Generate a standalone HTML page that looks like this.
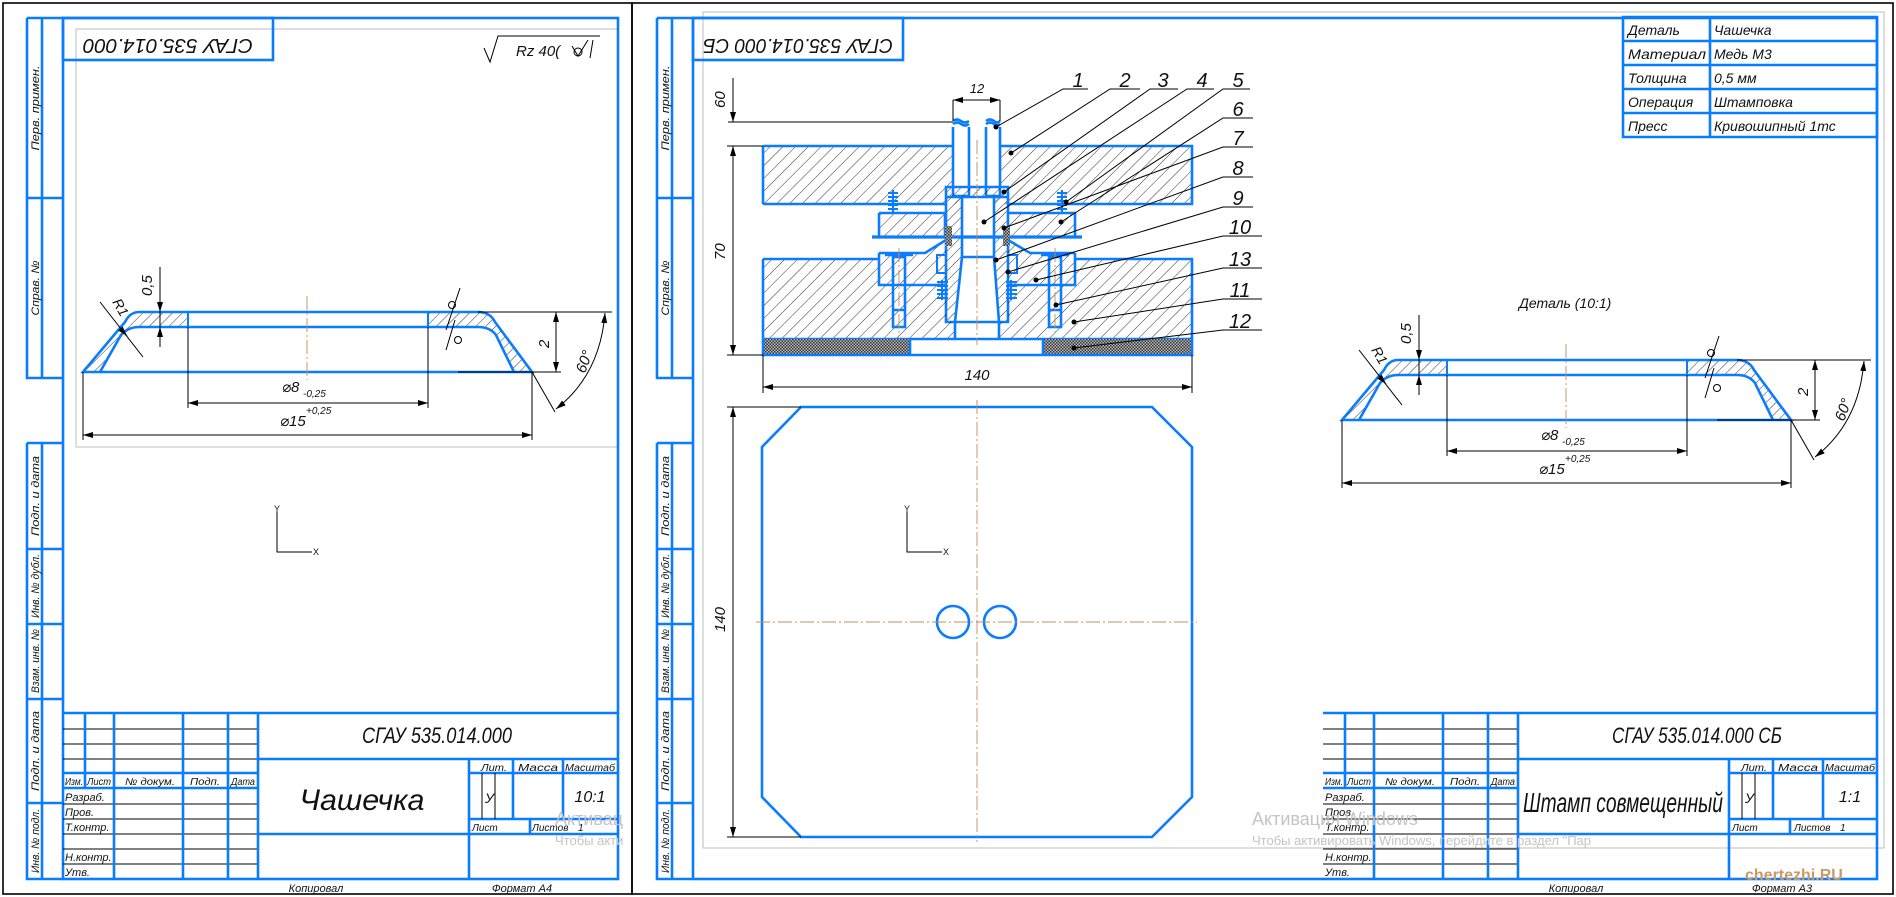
<!DOCTYPE html>
<html><head><meta charset="utf-8">
<style>
html,body{margin:0;padding:0;background:#fff;}
svg{display:block;}
text{font-family:"Liberation Sans","DejaVu Sans",sans-serif;font-style:italic;fill:#111;}
.b{stroke:#0a7cff;stroke-width:2.6;fill:none;}
.bt{stroke:#0a7cff;stroke-width:2;fill:none;}
.k{stroke:#000;stroke-width:1;fill:none;}
.k2{stroke:#000;stroke-width:1.6;fill:none;}
.g{stroke:#c8c8c8;stroke-width:1.2;fill:none;}
.c{stroke:#c0905a;stroke-width:0.9;fill:none;stroke-dasharray:14,3,2,3;}
.st{font-size:11px;}
</style></head>
<body>
<svg width="1896" height="897" viewBox="0 0 1896 897" xmlns="http://www.w3.org/2000/svg">
<defs>
<pattern id="h" width="9" height="9" patternUnits="userSpaceOnUse" patternTransform="rotate(45)">
<line x1="0" y1="0" x2="0" y2="9" stroke="#000" stroke-width="0.8"/>
</pattern>
<pattern id="hs" width="7" height="7" patternUnits="userSpaceOnUse" patternTransform="rotate(45)">
<line x1="0" y1="0" x2="0" y2="7" stroke="#000" stroke-width="0.8"/>
</pattern>
<pattern id="x" width="3" height="3" patternUnits="userSpaceOnUse">
<rect width="3" height="3" fill="#bbb"/><rect width="1.5" height="1.5" fill="#333"/><rect x="1.5" y="1.5" width="1.5" height="1.5" fill="#333"/>
</pattern>
<marker id="a" viewBox="0 0 10 6" refX="10" refY="3" markerWidth="10" markerHeight="6" orient="auto-start-reverse" markerUnits="userSpaceOnUse">
<path d="M0,0 L10,3 L0,6 Z" fill="#000"/></marker>
</defs>

<rect x="3" y="3" width="629" height="891" class="k2"/>
<rect x="632" y="3" width="1261" height="891" class="k2"/>

<rect x="76" y="29" width="542" height="418" class="g"/>
<rect x="703" y="12" width="1181" height="836" class="g"/>

<rect x="63" y="18" width="555" height="861" class="b"/>
<path class="b" d="M27,18 V198 H63 M27,198 V378 H63 M42,18 V378 M27,18 H63"/>
<path class="b" d="M27,443 H63 M27,443 V879 H63 M42,443 V879 M27,549 H63 M27,624 H63 M27,699 H63 M27,803 H63"/>
<g id="strip" class="st">
<text transform="translate(39,108) rotate(-90)" text-anchor="middle" textLength="85" lengthAdjust="spacingAndGlyphs">Перв. примен.</text>
<text transform="translate(39,288) rotate(-90)" text-anchor="middle" textLength="55" lengthAdjust="spacingAndGlyphs">Справ. №</text>
<text transform="translate(39,496) rotate(-90)" text-anchor="middle" textLength="80" lengthAdjust="spacingAndGlyphs">Подп. и дата</text>
<text transform="translate(39,586) rotate(-90)" text-anchor="middle" textLength="64" lengthAdjust="spacingAndGlyphs">Инв. № дубл.</text>
<text transform="translate(39,661) rotate(-90)" text-anchor="middle" textLength="64" lengthAdjust="spacingAndGlyphs">Взам. инв. №</text>
<text transform="translate(39,751) rotate(-90)" text-anchor="middle" textLength="80" lengthAdjust="spacingAndGlyphs">Подп. и дата</text>
<text transform="translate(39,841) rotate(-90)" text-anchor="middle" textLength="64" lengthAdjust="spacingAndGlyphs">Инв. № подл.</text>
</g>
<rect x="63" y="18" width="210" height="42" class="b"/>
<text transform="translate(168,39) rotate(180)" text-anchor="middle" font-size="20" textLength="170" lengthAdjust="spacingAndGlyphs">СГАУ 535.014.000</text>
<path class="k" d="M484,48 L490,62 L498,36 H600"/>
<text x="516" y="56" font-size="15">Rz 40(</text>
<circle cx="578" cy="52" r="4" class="k"/>
<path class="k" d="M572,46 L578,56 L588,40 M593,40 L590,58"/>

<rect x="693" y="18" width="1184" height="861" class="b"/>
<path class="b" d="M657,18 V198 H693 M657,198 V378 H693 M672,18 V378 M657,18 H693"/>
<path class="b" d="M657,443 H693 M657,443 V879 H693 M672,443 V879 M657,549 H693 M657,624 H693 M657,699 H693 M657,803 H693"/>
<use href="#strip" transform="translate(630,0)"/>
<rect x="693" y="18" width="210" height="42" class="b"/>
<text transform="translate(798,39) rotate(180)" text-anchor="middle" font-size="20" textLength="190" lengthAdjust="spacingAndGlyphs">СГАУ 535.014.000 СБ</text>

<g id="tb">
<path class="k" d="M63,729 H258 M63,744 H258 M63,759 H258 M63,804 H258 M63,819 H258 M63,834 H258 M63,849 H258 M63,864 H258"/>
<path class="b" d="M63,713 H618 M63,773 H258 M63,788 H258 M85,713 V788 M114,713 V879 M183,713 V879 M228,713 V879 M258,713 V879 M258,759 H618 M258,834 H618 M469,759 V879 M469,773 H618 M469,819 H618 M513,759 V819 M563,759 V819 M530,819 V834"/>
<path class="k" d="M482,773 V819 M495,773 V819"/>
<g font-size="10">
<text x="65" y="785" textLength="18" lengthAdjust="spacingAndGlyphs">Изм.</text>
<text x="87" y="785" textLength="24" lengthAdjust="spacingAndGlyphs">Лист</text>
<text x="125" y="785" textLength="50" lengthAdjust="spacingAndGlyphs">№ докум.</text>
<text x="190" y="785" textLength="30" lengthAdjust="spacingAndGlyphs">Подп.</text>
<text x="231" y="785" textLength="24" lengthAdjust="spacingAndGlyphs">Дата</text>
<text x="481" y="771" textLength="26" lengthAdjust="spacingAndGlyphs">Лит.</text>
<text x="518" y="771" textLength="40" lengthAdjust="spacingAndGlyphs">Масса</text>
<text x="565" y="771" textLength="50" lengthAdjust="spacingAndGlyphs">Масштаб</text>
<text x="472" y="831">Лист</text>
</g>
<g font-size="11">
<text x="65" y="801">Разраб.</text>
<text x="65" y="816">Пров.</text>
<text x="65" y="831">Т.контр.</text>
<text x="65" y="861">Н.контр.</text>
<text x="65" y="876">Утв.</text>
</g>
<text x="485" y="803" font-size="14">У</text>
</g>
<use href="#tb" transform="translate(1260,0)"/>

<text x="437" y="743" text-anchor="middle" font-size="22" textLength="150" lengthAdjust="spacingAndGlyphs">СГАУ 535.014.000</text>
<text x="362" y="810" text-anchor="middle" font-size="30" textLength="125" lengthAdjust="spacingAndGlyphs">Чашечка</text>
<text x="590" y="802" text-anchor="middle" font-size="16">10:1</text>
<text x="532" y="831" font-size="10">Листов</text>
<text x="578" y="831" font-size="10">1</text>
<text x="316" y="892" text-anchor="middle" font-size="11">Копировал</text>
<text x="522" y="892" text-anchor="middle" font-size="11">Формат    А4</text>

<text x="1697" y="743" text-anchor="middle" font-size="22" textLength="170" lengthAdjust="spacingAndGlyphs">СГАУ 535.014.000 СБ</text>
<text x="1623" y="812" text-anchor="middle" font-size="28" textLength="200" lengthAdjust="spacingAndGlyphs">Штамп совмещенный</text>
<text x="1850" y="802" text-anchor="middle" font-size="16">1:1</text>
<text x="1794" y="831" font-size="10">Листов</text>
<text x="1840" y="831" font-size="10">1</text>
<text x="1576" y="892" text-anchor="middle" font-size="11">Копировал</text>
<text x="1782" y="892" text-anchor="middle" font-size="11">Формат    А3</text>

<text x="555" y="825" font-size="18" style="fill:#c4c4c4;font-style:normal">Активац</text>
<text x="555" y="845" font-size="13" style="fill:#c4c4c4;font-style:normal">Чтобы акти</text>
<text x="1252" y="825" font-size="18" style="fill:#c4c4c4;font-style:normal">Активация Windows</text>
<text x="1252" y="845" font-size="13" style="fill:#c4c4c4;font-style:normal">Чтобы активировать Windows, перейдите в раздел "Пар</text>
<text x="1745" y="880" font-size="16" style="fill:#c79a66;font-style:normal;font-weight:bold">chertezhi.RU</text>

<path class="b" d="M1623,17 H1877 V137 H1623 Z M1623,41 H1877 M1623,65 H1877 M1623,89 H1877 M1623,113 H1877 M1710,17 V137"/>
<g font-size="14">
<text x="1628" y="35">Деталь</text><text x="1714" y="35">Чашечка</text>
<text x="1628" y="59" textLength="78" lengthAdjust="spacingAndGlyphs">Материал</text><text x="1714" y="59">Медь М3</text>
<text x="1628" y="83">Толщина</text><text x="1714" y="83">0,5 мм</text>
<text x="1628" y="107">Операция</text><text x="1714" y="107">Штамповка</text>
<text x="1628" y="131">Пресс</text><text x="1714" y="131">Кривошипный 1тс</text>
</g>

<g id="det">
<path fill="url(#hs)" d="M83,372 L125,322 Q130,312 139,312 L188,312 L188,327 L139,327 Q128,327 121,335 L100,372 Z"/>
<path fill="url(#hs)" d="M532,372 L495,322 Q490,312 478,312 L428,312 L428,327 L478,327 Q490,327 496,335 L514,372 Z"/>
<path class="b" d="M83,372 L125,322 Q130,312 139,312 L478,312 Q490,312 495,322 L532,372 Z"/>
<path class="b" d="M100,372 L121,335 Q128,327 139,327 L478,327 Q490,327 496,335 L514,372"/>
<path class="bt" d="M188,312 V327 M428,312 V327"/>
<line x1="307" y1="296" x2="307" y2="380" class="c"/>
<path class="k" d="M188,327 V408 M428,327 V408 M83,372 V440 M532,372 V440"/>
<line x1="188" y1="403" x2="428" y2="403" class="k" marker-start="url(#a)" marker-end="url(#a)"/>
<line x1="83" y1="435" x2="532" y2="435" class="k" marker-start="url(#a)" marker-end="url(#a)"/>
<text x="282" y="392" font-size="15">⌀8</text><text x="303" y="397" font-size="10">-0,25</text>
<text x="280" y="426" font-size="15">⌀15</text><text x="306" y="414" font-size="10">+0,25</text>
<path class="k" d="M478,312 H612 M458,372 H561"/>
<line x1="556" y1="312" x2="556" y2="372" class="k" marker-start="url(#a)" marker-end="url(#a)"/>
<text transform="translate(549,348) rotate(-90)" font-size="15">2</text>
<path class="k" d="M532,372 L555,412"/>
<path class="k" d="M605,313 Q600,375 556,409" marker-start="url(#a)" marker-end="url(#a)"/>
<text transform="translate(585,374) rotate(-70)" font-size="15">60°</text>
<path class="k" d="M160,267 V347"/>
<path class="k" d="M160,300 V312" marker-end="url(#a)"/>
<path class="k" d="M160,340 V327" marker-end="url(#a)"/>
<text transform="translate(152,296) rotate(-90)" font-size="15">0,5</text>
<path class="k" d="M100,302 L143,357"/>
<path class="k" d="M120,328 L127,336" marker-end="url(#a)"/>
<text transform="translate(112,302) rotate(60)" font-size="14">R1</text>
<path class="k" d="M446,330 L460,288 M446,350 L455,320"/>
<circle cx="452" cy="305" r="3.5" class="k"/><circle cx="458" cy="340" r="3.5" class="k"/>
</g>
<use href="#det" transform="translate(1259,48)"/>
<text x="1519" y="308" font-size="14">Деталь (10:1)</text>

<path class="k" d="M277,512 V552 H312"/>
<text x="274" y="512" font-size="9" style="font-style:normal">Y</text>
<text x="313" y="555" font-size="9" style="font-style:normal">X</text>
<path class="k" d="M907,512 V552 H942"/>
<text x="904" y="512" font-size="9" style="font-style:normal">Y</text>
<text x="943" y="555" font-size="9" style="font-style:normal">X</text>

<rect x="763" y="146" width="429" height="58" fill="url(#h)"/>
<rect x="953" y="146" width="47" height="51" fill="#fff"/>
<path class="b" d="M763,146 H953 M1000,146 H1192 V204 H1008 M946,204 H763 Z" />
<path class="b" d="M763,146 V204"/>
<path class="b" d="M953,127 V196 H969 V127 M986,127 V196 H1000 V127"/>
<path class="b" d="M953,124 q4,-3 8,0 q4,3 8,0 M986,124 q4,-3 8,0 q3,3 6,0"/>
<path class="b" d="M953,121 q4,-3 8,0 q4,3 8,0 M986,121 q4,-3 8,0 q3,3 6,0"/>
<rect x="946" y="187" width="62" height="135" fill="url(#hs)"/>
<path fill="#fff" d="M962,197 H994 V257 L999,322 H955 L962,257 Z"/>
<path class="b" d="M946,187 H1008 V322 H946 Z M962,197 V257 L955,322 M994,197 V257 L999,322 M962,257 H994 M946,197 H1008"/>
<rect x="879" y="213" width="68" height="24" fill="url(#h)"/>
<rect x="1008" y="213" width="67" height="24" fill="url(#h)"/>
<path class="b" d="M879,213 H945 V237 M879,213 V237 M1008,213 H1075 V237"/>
<path class="b" d="M872,237 H1082" style="stroke-width:3.2"/>
<rect x="945" y="226" width="7" height="20" fill="url(#x)"/>
<rect x="1003" y="226" width="7" height="20" fill="url(#x)"/>
<path fill="url(#h)" d="M763,259 H879 V253 H925 L940,245 H946 V322 H955 V339 H763 Z"/>
<path fill="url(#h)" d="M1192,259 H1075 V253 H1030 L1015,245 H1008 V322 H999 V339 H1192 Z"/>
<path class="b" d="M763,259 H879 M763,259 V339 H1192 V259 H1075 M879,253 V285 H946 M1075,253 V285 H1008 M879,253 H925 L946,240 M1075,253 H1030 L1008,240 M955,322 V339 M999,322 V339"/>
<rect x="763" y="339" width="147" height="16" fill="url(#x)"/>
<rect x="1043" y="339" width="149" height="16" fill="url(#x)"/>
<path class="b" d="M763,339 V355 H1192 V339 M910,339 V355 M1043,339 V355"/>
<rect x="893" y="257" width="12" height="70" fill="#fff" class="b"/>
<rect x="1049" y="257" width="12" height="70" fill="#fff" class="b"/>
<path class="b" d="M885,255 H913 M1041,255 H1069 M893,310 H905 M1049,310 H1061"/>
<path class="bt" d="M888,193 H898 M888,197 H898 M888,201 H898 M888,205 H898 M888,209 H898 M893,190 V213"/>
<path class="bt" d="M1057,193 H1067 M1057,197 H1067 M1057,201 H1067 M1057,205 H1067 M1057,209 H1067 M1062,190 V213"/>
<path class="bt" d="M937,282 H948 M937,286 H948 M937,290 H948 M937,294 H948 M937,298 H948 M942,280 V300"/>
<path class="bt" d="M1006,282 H1017 M1006,286 H1017 M1006,290 H1017 M1006,294 H1017 M1006,298 H1017 M1011,280 V300"/>
<rect x="937" y="255" width="9" height="18" class="bt" fill="#fff"/>
<rect x="1008" y="255" width="9" height="18" class="bt" fill="#fff"/>
<line x1="977" y1="140" x2="977" y2="345" class="c"/>
<line x1="899" y1="248" x2="899" y2="333" class="c"/>
<line x1="1055" y1="248" x2="1055" y2="333" class="c"/>

<path class="k" d="M953,100 V121 M1000,100 V121"/>
<line x1="953" y1="100" x2="1000" y2="100" class="k" marker-start="url(#a)" marker-end="url(#a)"/>
<text x="977" y="93" text-anchor="middle" font-size="13">12</text>
<path class="k" d="M728,122 H953 M727,146 H763 M727,355 H763"/>
<line x1="733" y1="78" x2="733" y2="122" class="k" marker-end="url(#a)"/>
<line x1="733" y1="146" x2="733" y2="355" class="k" marker-start="url(#a)" marker-end="url(#a)"/>
<text transform="translate(725,108) rotate(-90)" font-size="15">60</text>
<text transform="translate(725,260) rotate(-90)" font-size="15">70</text>
<path class="k" d="M763,355 V393 M1192,355 V393"/>
<line x1="763" y1="387" x2="1192" y2="387" class="k" marker-start="url(#a)" marker-end="url(#a)"/>
<text x="977" y="380" text-anchor="middle" font-size="15">140</text>

<g class="k">
<path d="M1088,89 H1063 L996,127"/>
<path d="M1140,89 H1110 L1011,153"/>
<path d="M1178,89 H1150 L1004,192"/>
<path d="M1214,89 H1187 L984,222"/>
<path d="M1250,89 H1223 L1066,202"/>
<path d="M1253,118 H1223 L1061,222"/>
<path d="M1253,147 H1223 L1004,228"/>
<path d="M1253,177 H1223 L996,260"/>
<path d="M1253,207 H1223 L1008,272"/>
<path d="M1262,236 H1223 L1036,280"/>
<path d="M1262,268 H1223 L1056,305"/>
<path d="M1262,299 H1223 L1074,322"/>
<path d="M1262,330 H1223 L1074,348"/>
</g>
<g fill="#000">
<circle cx="996" cy="127" r="2.5"/><circle cx="1011" cy="153" r="2.5"/><circle cx="1004" cy="192" r="2.5"/><circle cx="984" cy="222" r="2.5"/><circle cx="1066" cy="202" r="2.5"/><circle cx="1061" cy="222" r="2.5"/><circle cx="1004" cy="228" r="2.5"/><circle cx="996" cy="260" r="2.5"/><circle cx="1008" cy="272" r="2.5"/><circle cx="1036" cy="280" r="2.5"/><circle cx="1056" cy="305" r="2.5"/><circle cx="1074" cy="322" r="2.5"/><circle cx="1074" cy="348" r="2.5"/>
</g>
<g font-size="20" text-anchor="middle">
<text x="1078" y="87">1</text><text x="1125" y="87">2</text><text x="1163" y="87">3</text><text x="1202" y="87">4</text><text x="1238" y="87">5</text>
<text x="1238" y="116">6</text><text x="1238" y="145">7</text><text x="1238" y="175">8</text><text x="1238" y="205">9</text>
<text x="1240" y="234">10</text><text x="1240" y="266">13</text><text x="1240" y="297">11</text><text x="1240" y="328">12</text>
</g>

<path class="b" d="M801,407 H1152 L1192,447 V797 L1152,837 H801 L762,797 V447 Z"/>
<circle cx="953" cy="622" r="16" class="b"/>
<circle cx="1000" cy="622" r="16" class="b"/>
<line x1="756" y1="622" x2="1197" y2="622" class="c"/>
<line x1="977" y1="400" x2="977" y2="842" class="c"/>
<path class="k" d="M727,407 H801 M727,837 H801"/>
<line x1="733" y1="407" x2="733" y2="837" class="k" marker-start="url(#a)" marker-end="url(#a)"/>
<text transform="translate(725,632) rotate(-90)" font-size="15">140</text>
</svg>
</body></html>
